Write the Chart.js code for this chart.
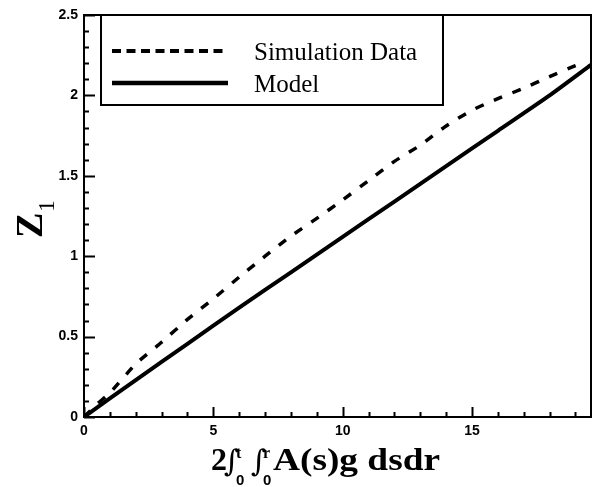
<!DOCTYPE html>
<html>
<head>
<meta charset="utf-8">
<script src="https://cdn.jsdelivr.net/npm/chart.js@4.4.1/dist/chart.umd.min.js"></script>
<style>
  html, body { margin: 0; padding: 0; background: #fff; }
  #c { display: block; }
</style>
</head>
<body>
<canvas id="c" width="600" height="487"></canvas>
<script>
// ---- Data ----
const simX   = [0, 0.5, 1, 2, 3, 4, 5, 6, 7, 8, 9, 10, 11, 12, 13, 14, 15, 16, 17, 18, 19, 19.4];
const simY   = [0, 0.08, 0.15, 0.33, 0.465, 0.607, 0.735, 0.87, 1.0, 1.125, 1.235, 1.35, 1.47, 1.59, 1.69, 1.81, 1.908, 1.98, 2.045, 2.117, 2.185, 2.21];
const modelX = [0, 2, 4, 6, 8, 10, 12, 14, 16, 18, 19.6];
const modelY = [0, 0.23, 0.455, 0.68, 0.9, 1.12, 1.34, 1.56, 1.78, 2.0, 2.19];

const seriesNames = ["Simulation Data", "Model"];
const xRange = [0, 19.6];
const yRange = [0, 2.5];
const xMajorStep = 5, xMinorStep = 1;
const yMajorStep = 0.5, yMinorStep = 0.1;

const toPts = (xs, ys) => xs.map((x, i) => ({ x: x, y: ys[i] }));
const fmt = v => String(+Number(v).toFixed(2));

const framePlugin = {
  id: 'frame',
  afterDraw(chart) {
    const ctx = chart.ctx;
    const a = chart.chartArea;
    const xs = chart.scales.x, ys = chart.scales.y;
    ctx.save();
    ctx.strokeStyle = '#000';
    ctx.lineWidth = 2;
    ctx.strokeRect(a.left, a.top, a.right - a.left, a.bottom - a.top);

    // inward ticks
    ctx.lineWidth = 2;
    ctx.beginPath();
    for (let i = 0; xRange[0] + i * xMinorStep <= xRange[1] + 1e-9; i++) {
      const v = xRange[0] + i * xMinorStep;
      const px = Math.round(xs.getPixelForValue(v)) + 0.5;
      const major = Math.abs(v / xMajorStep - Math.round(v / xMajorStep)) < 1e-6;
      ctx.moveTo(px, a.bottom);
      ctx.lineTo(px, a.bottom - (major ? 10 : 5));
    }
    for (let i = 0; yRange[0] + i * yMinorStep <= yRange[1] + 1e-9; i++) {
      const v = yRange[0] + i * yMinorStep;
      const py = Math.round(ys.getPixelForValue(v)) + 0.5;
      const major = Math.abs(v / yMajorStep - Math.round(v / yMajorStep)) < 1e-6;
      ctx.moveTo(a.left, py);
      ctx.lineTo(a.left + (major ? 11 : 5), py);
    }
    ctx.stroke();

    // legend box
    const lx0 = 101, lx1 = 443, ly0 = a.top, ly1 = 105;
    ctx.lineWidth = 2;
    ctx.strokeRect(lx0, ly0, lx1 - lx0, ly1 - ly0);
    // legend samples
    ctx.lineWidth = 4;
    ctx.setLineDash([9, 5.5]);
    ctx.beginPath(); ctx.moveTo(112, 51); ctx.lineTo(228, 51); ctx.stroke();
    ctx.setLineDash([]);
    ctx.lineWidth = 4.5;
    ctx.beginPath(); ctx.moveTo(112, 83); ctx.lineTo(228, 83); ctx.stroke();
    ctx.fillStyle = '#000';
    ctx.font = '25px "Liberation Serif", "DejaVu Serif", serif';
    ctx.textAlign = 'left';
    ctx.textBaseline = 'alphabetic';
    ctx.fillText(seriesNames[0], 254, 59.5);
    ctx.fillText(seriesNames[1], 254, 91.5);

    // y axis title  Z_1 (rotated)
    ctx.save();
    ctx.translate(42, 238);
    ctx.rotate(-Math.PI / 2);
    ctx.font = 'bold 38px "Liberation Serif", "DejaVu Serif", serif';
    ctx.fillText('Z', 0, 0);
    const zw = ctx.measureText('Z').width;
    ctx.font = '23px "Liberation Serif", "DejaVu Serif", serif';
    ctx.fillText('1', zw + 1, 12);
    ctx.restore();

    // x axis title  2∫_0^t ∫_0^r A(s)g dsdr
    const big = 'bold 32px "Liberation Serif", "DejaVu Serif", serif';
    const integ = '30px "DejaVu Serif", "Liberation Serif", serif';
    const small = 'bold 16px "Liberation Serif", "DejaVu Serif", serif';
    const base = 470;
    ctx.font = big; ctx.fillText('2', 211, base);
    ctx.font = integ; ctx.fillText('\u222B', 224, base + 1);
    ctx.font = small; ctx.fillText('t', 236, base - 12);
    ctx.font = 'bold 15px "Liberation Sans", sans-serif'; ctx.fillText('0', 236, base + 15);
    ctx.font = integ; ctx.fillText('\u222B', 251, base + 1);
    ctx.font = small; ctx.fillText('r', 263, base - 12);
    ctx.font = 'bold 15px "Liberation Sans", sans-serif'; ctx.fillText('0', 263, base + 15);
    ctx.font = big;
    const tail = 'A(s)g dsdr';
    const tw = ctx.measureText(tail).width;
    ctx.save();
    ctx.translate(273, base);
    ctx.scale(167 / tw, 1);
    ctx.fillText(tail, 0, 0);
    ctx.restore();

    ctx.restore();
  }
};

new Chart(document.getElementById('c'), {
  type: 'line',
  data: {
    datasets: [
      {
        label: seriesNames[0],
        data: toPts(simX, simY),
        borderColor: '#000',
        borderWidth: 3.5,
        borderDash: [9, 11],
        pointRadius: 0,
        tension: 0.2,
        fill: false
      },
      {
        label: seriesNames[1],
        data: toPts(modelX, modelY),
        borderColor: '#000',
        borderWidth: 4,
        pointRadius: 0,
        tension: 0.2,
        fill: false
      }
    ]
  },
  options: {
    responsive: false,
    animation: false,
    devicePixelRatio: 1,
    layout: { padding: { left: 0, right: 9, top: 15, bottom: 0 } },
    plugins: { legend: { display: false }, tooltip: { enabled: false } },
    scales: {
      x: {
        type: 'linear',
        min: xRange[0], max: xRange[1],
        grid: { display: false, drawTicks: false },
        border: { display: false },
        ticks: {
          stepSize: xMajorStep,
          includeBounds: false,
          color: '#000',
          padding: 6,
          callback: fmt,
          font: { family: '"Liberation Sans", sans-serif', size: 14, weight: 'bold' }
        },
        afterFit(s) { s.height = 70; }
      },
      y: {
        type: 'linear',
        min: yRange[0], max: yRange[1],
        grid: { display: false, drawTicks: false },
        border: { display: false },
        ticks: {
          stepSize: yMajorStep,
          color: '#000',
          padding: 6,
          callback: fmt,
          font: { family: '"Liberation Sans", sans-serif', size: 14, weight: 'bold' }
        },
        afterFit(s) { s.width = 84; }
      }
    }
  },
  plugins: [framePlugin]
});
</script>
</body>
</html>
